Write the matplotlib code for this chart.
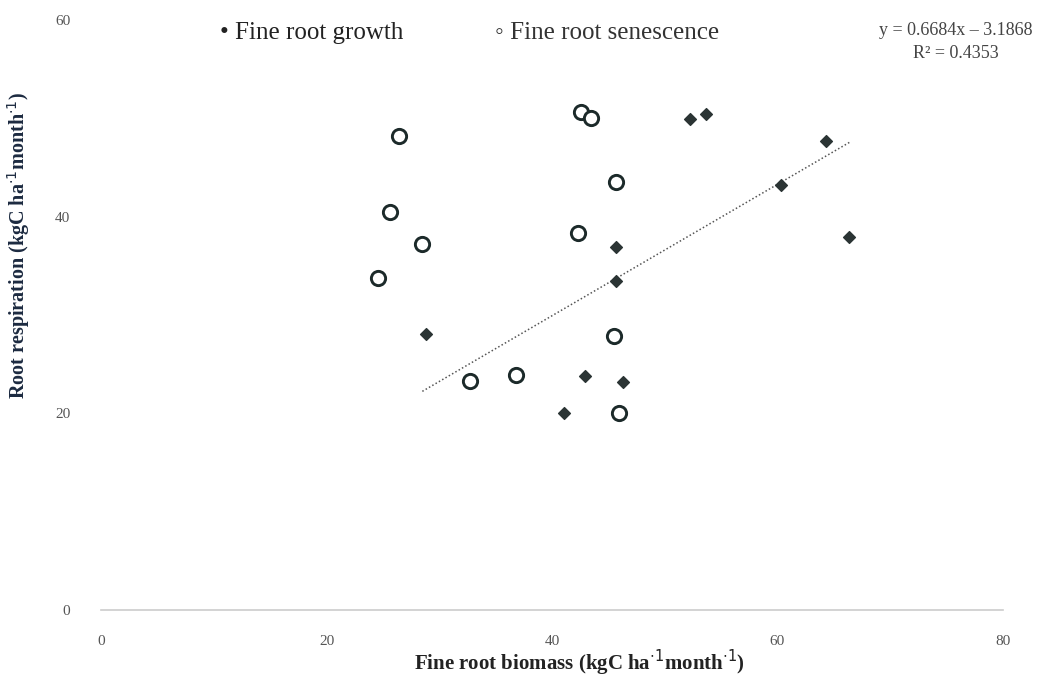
import numpy as np
import matplotlib
matplotlib.use("Agg")
from matplotlib import pyplot as plt

# fine root growth (filled diamonds)
growth_x = [28.8, 41.1, 42.9, 45.7, 45.7, 46.3, 52.2, 53.7, 60.3, 64.3, 66.3]
growth_y = [28.1, 20.0, 23.8, 36.9, 33.5, 23.2, 49.9, 50.4, 43.2, 47.7, 37.9]

# fine root senescence (open circles)
sen_x = [24.6, 25.6, 26.4, 28.5, 32.7, 36.8, 42.3, 42.6, 43.5, 45.7, 45.5, 45.9]
sen_y = [33.8, 40.5, 48.2, 37.2, 23.3, 23.9, 38.3, 50.6, 50.0, 43.5, 27.9, 20.0]

# trend line
slope = 0.6684
intercept = 3.1868
line_range = [28.5, 66.5]

xticks = [0, 20, 40, 60, 80]
yticks = [0, 20, 40, 60]

plt.rcParams['font.family'] = ['Liberation Serif', 'DejaVu Serif']

fig = plt.figure(figsize=(10.48, 6.82), dpi=100)
ax = fig.add_axes([101/1048, 72/682, 902/1048, 590/682])

ax.scatter(growth_x, growth_y, marker='D', s=36, color='#2b3434', zorder=3)
ax.scatter(sen_x, sen_y, marker='o', s=105, facecolors='white',
           edgecolors='#1c2a2a', linewidths=2.1, zorder=3)

lx = np.array(line_range)
ax.plot(lx, slope*lx + intercept, linestyle=(0, (1, 1.5)), color='#555555', linewidth=1.1)

ax.set_xlim(0, 80)
ax.set_ylim(0, 60)
ax.set_xticks(xticks)
ax.set_yticks(yticks)
ax.tick_params(length=0, labelsize=11, colors='#555555', pad=18)
ax.tick_params(axis='y', pad=22)
for s in ['top', 'right', 'left']:
    ax.spines[s].set_visible(False)
ax.spines['bottom'].set_color('#cccccc')
ax.spines['bottom'].set_linewidth(1.2)

fig.text(0.553, 0.028, 'Fine root biomass (kgC ha$^{\\cdot 1}$month$^{\\cdot 1}$)',
         ha='center', va='center', fontsize=15, fontweight='bold', color='#222222')
fig.text(0.018, 0.64, 'Root respiration (kgC ha$^{\\cdot 1}$month$^{\\cdot 1}$)',
         ha='center', va='center', rotation=90, fontsize=14.5, fontweight='bold', color='#1c2a40')

# legend entries
fig.text(0.21, 0.952, '\u2022 Fine root growth', ha='left', va='center', fontsize=18, color='#222222')
fig.text(0.472, 0.952, '\u25e6 Fine root senescence', ha='left', va='center', fontsize=18, color='#333333')

fig.text(0.912, 0.955, 'y = 0.6684x \u2013 3.1868', ha='center', va='center', fontsize=13, color='#444444')
fig.text(0.912, 0.922, 'R\u00b2 = 0.4353', ha='center', va='center', fontsize=13, color='#444444')

fig.savefig('out.png', dpi=100)
